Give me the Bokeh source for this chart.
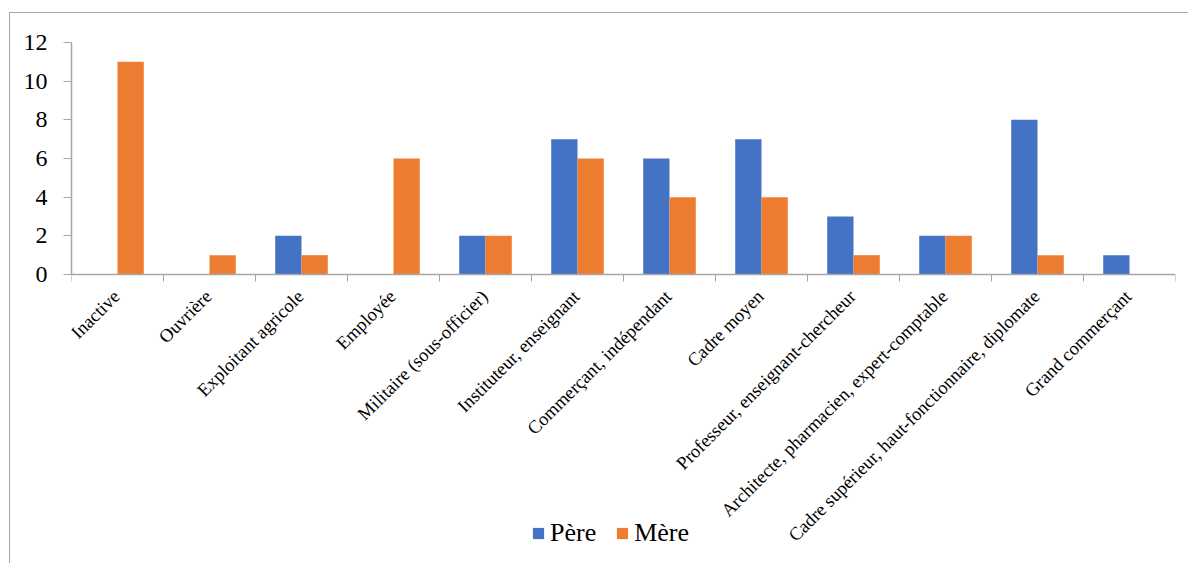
from bokeh.plotting import figure
from bokeh.models import ColumnDataSource, Range1d, FixedTicker, Legend, LegendItem
from bokeh.core.properties import value
from bokeh.transform import dodge
from bokeh.embed import file_html
from bokeh.resources import INLINE
import math

categories = ["Inactive", "Ouvrière", "Exploitant agricole", "Employée",
              "Militaire (sous-officier)", "Instituteur, enseignant",
              "Commerçant, indépendant", "Cadre moyen",
              "Professeur, enseignant-chercheur",
              "Architecte, pharmacien, expert-comptable",
              "Cadre supérieur, haut-fonctionnaire, diplomate",
              "Grand commerçant"]
pere = [0, 0, 2, 0, 2, 7, 6, 7, 3, 2, 8, 1]
mere = [11, 1, 1, 6, 2, 6, 4, 4, 1, 2, 1, 0]
series_names = ["Père", "Mère"]
y_ticks = [0, 2, 4, 6, 8, 10, 12]

FONT = "Liberation Serif"
AXIS_GRAY = "#a6a6a6"
BAR_W = 1 / 3.5

# layout geometry (pixels)
W, H = 1178, 550
TOP, BOTTOM, LEFT, RIGHT = 29, 16, 61, 13
PLOT_H_VALUES = 232.0            # pixel height for 0..12
frame_h = H - TOP - BOTTOM
y_min = 12 - frame_h * 12 / PLOT_H_VALUES

idx = list(range(len(categories)))
src = ColumnDataSource(dict(idx=idx, pere=pere, mere=mere, cat=categories))

p = figure(width=W, height=H, output_backend="svg", toolbar_location=None,
           x_range=Range1d(-0.5, len(categories) - 0.5), y_range=Range1d(y_min, 12),
           min_border_left=LEFT, min_border_right=RIGHT, min_border_top=TOP,
           min_border_bottom=BOTTOM)
p.margin = (13, 0, 0, 10)
p.styles = {"outline": "1.5px solid #a6a6a6"}
p.outline_line_color = None
p.grid.visible = False
p.background_fill_color = "white"
p.border_fill_color = "white"

r1 = p.vbar(x=dodge("idx", -BAR_W / 2), top="pere", width=BAR_W, source=src,
            fill_color="#4472C4", line_color=None)
r2 = p.vbar(x=dodge("idx", BAR_W / 2), top="mere", width=BAR_W, source=src,
            fill_color="#ED7D31", line_color=None)

# category labels
p.text(x="idx", y=0, text="cat", source=src, angle=math.pi / 4,
       text_align="right", text_baseline="middle", x_offset=-1, y_offset=19,
       text_font=value(FONT), text_font_size="18.5px", text_color="black")

# x axis (line + boundary ticks at y = 0)
xa = p.xaxis[0]
xa.fixed_location = 0
xa.ticker = FixedTicker(ticks=[], minor_ticks=[i - 0.5 for i in range(len(categories) + 1)])
xa.major_label_text_font_size = "0px"
xa.major_label_standoff = 0
xa.major_tick_line_color = None
xa.major_tick_out = 0
xa.major_tick_in = 0
xa.minor_tick_line_color = AXIS_GRAY
xa.minor_tick_out = 7
xa.minor_tick_in = 0
xa.axis_line_color = AXIS_GRAY
xa.axis_line_width = 1.5

# y axis
ya = p.yaxis[0]
ya.bounds = (0, 12)
ya.ticker = FixedTicker(ticks=y_ticks)
ya.minor_tick_line_color = None
ya.major_tick_line_color = AXIS_GRAY
ya.major_tick_out = 8
ya.major_tick_in = 0
ya.axis_line_color = AXIS_GRAY
ya.axis_line_width = 1.5
ya.major_label_text_font = FONT
ya.major_label_text_font_size = "24px"
ya.major_label_text_color = "black"
ya.major_label_standoff = 16

legend = Legend(items=[LegendItem(label=series_names[0], renderers=[r1]),
                       LegendItem(label=series_names[1], renderers=[r2])],
                location=(460, -1), orientation="horizontal",
                glyph_width=14, glyph_height=14, label_standoff=5, spacing=19,
                padding=0, margin=0, border_line_color=None,
                background_fill_alpha=0, label_text_font=FONT,
                label_text_font_size="26px", label_text_color="black")
p.add_layout(legend, "center")

open("out.html", "w").write(file_html(p, INLINE))
